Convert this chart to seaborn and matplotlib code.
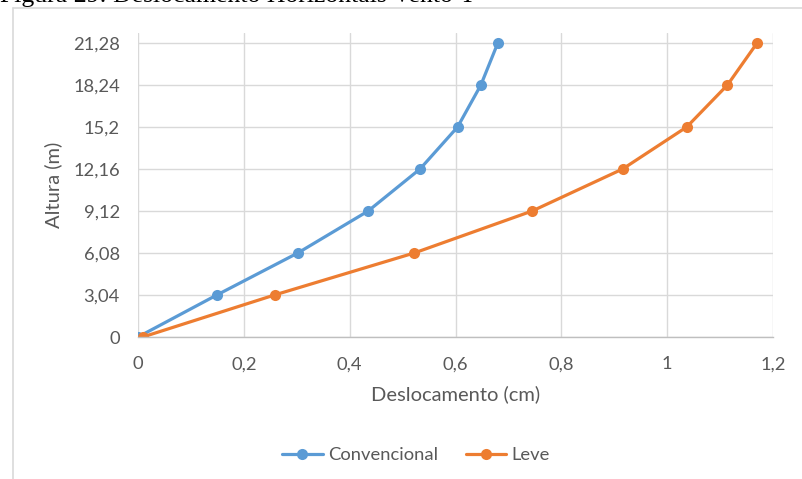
import matplotlib.pyplot as plt
import seaborn as sns
import pandas as pd
from matplotlib.lines import Line2D

# data
altura = [0, 3.04, 6.08, 9.12, 12.16, 15.2, 18.24, 21.28]
convencional = [0.0, 0.149, 0.302, 0.435, 0.533, 0.604, 0.648, 0.680]
leve = [0.009, 0.258, 0.522, 0.745, 0.916, 1.037, 1.114, 1.170]
series_names = ["Convencional", "Leve"]
x_ticks = [0, 0.2, 0.4, 0.6, 0.8, 1.0, 1.2]
x_tick_labels = ["0", "0,2", "0,4", "0,6", "0,8", "1", "1,2"]
y_tick_labels = ["0", "3,04", "6,08", "9,12", "12,16", "15,2", "18,24", "21,28"]

df = pd.DataFrame({
    "Altura": altura * 2,
    "Deslocamento": convencional + leve,
    "Serie": [series_names[0]] * len(altura) + [series_names[1]] * len(altura),
})

sns.set_style("white")
plt.rcParams['font.family'] = ['Lato', 'DejaVu Sans']

fig = plt.figure(figsize=(8.02, 4.79), dpi=100)
ax = fig.add_axes([138 / 802, 1 - 337 / 479, (773 - 138) / 802, (337 - 33) / 479])

colors = {"Convencional": "#5B9BD5", "Leve": "#ED7D31"}
sns.lineplot(data=df, x="Deslocamento", y="Altura", hue="Serie", palette=colors,
             sort=False, estimator=None, marker="o", markersize=8,
             markeredgewidth=0, linewidth=2.3, ax=ax, legend=False)

ax.set_xlim(0, 1.2)
ax.set_ylim(0, 22.0)
ax.set_xticks(x_ticks)
ax.set_xticklabels(x_tick_labels)
ax.set_yticks(altura)
ax.set_yticklabels(y_tick_labels)
ax.grid(True, color="#d9d9d9", linewidth=1)
ax.set_axisbelow(True)
for s in ["top", "right", "left"]:
    ax.spines[s].set_visible(False)
ax.spines["bottom"].set_color("#bfbfbf")
ax.spines["bottom"].set_linewidth(1)
ax.tick_params(axis="both", length=0, labelsize=13.2, labelcolor="#595959")
ax.tick_params(axis="y", pad=13)
ax.tick_params(axis="x", pad=14)

ax.set_xlabel("Deslocamento (cm)", fontsize=14.5, color="#595959", labelpad=9)
ax.set_ylabel("Altura (m)", fontsize=14.5, color="#595959", labelpad=8)

handles = [Line2D([0], [0], color=colors[n], marker="o", markersize=8,
                  markeredgewidth=0, linewidth=2.3) for n in series_names]
fig.legend(handles, series_names, loc="center", bbox_to_anchor=(416 / 802, 1 - 455 / 479),
           ncol=2, frameon=False, fontsize=13.2, labelcolor="#595959",
           handlelength=2.2, handletextpad=0.3, columnspacing=1.5)

# chart frame (left and top edges visible)
fig.add_artist(Line2D([13 / 802, 13 / 802], [0, 1 - 8 / 479], color="#d9d9d9", linewidth=1.2,
                      transform=fig.transFigure))
fig.add_artist(Line2D([13 / 802, 1], [1 - 8 / 479, 1 - 8 / 479], color="#d9d9d9", linewidth=1.2,
                      transform=fig.transFigure))

# caption above, cut off at the top of the image
fig.text(0.0, 1 + 4 / 479, "Figura 29: Deslocamento Horizontais Vento Y",
         family="Liberation Serif", fontsize=18.5, color="black", ha="left", va="center")

fig.savefig("out.png", dpi=100)
